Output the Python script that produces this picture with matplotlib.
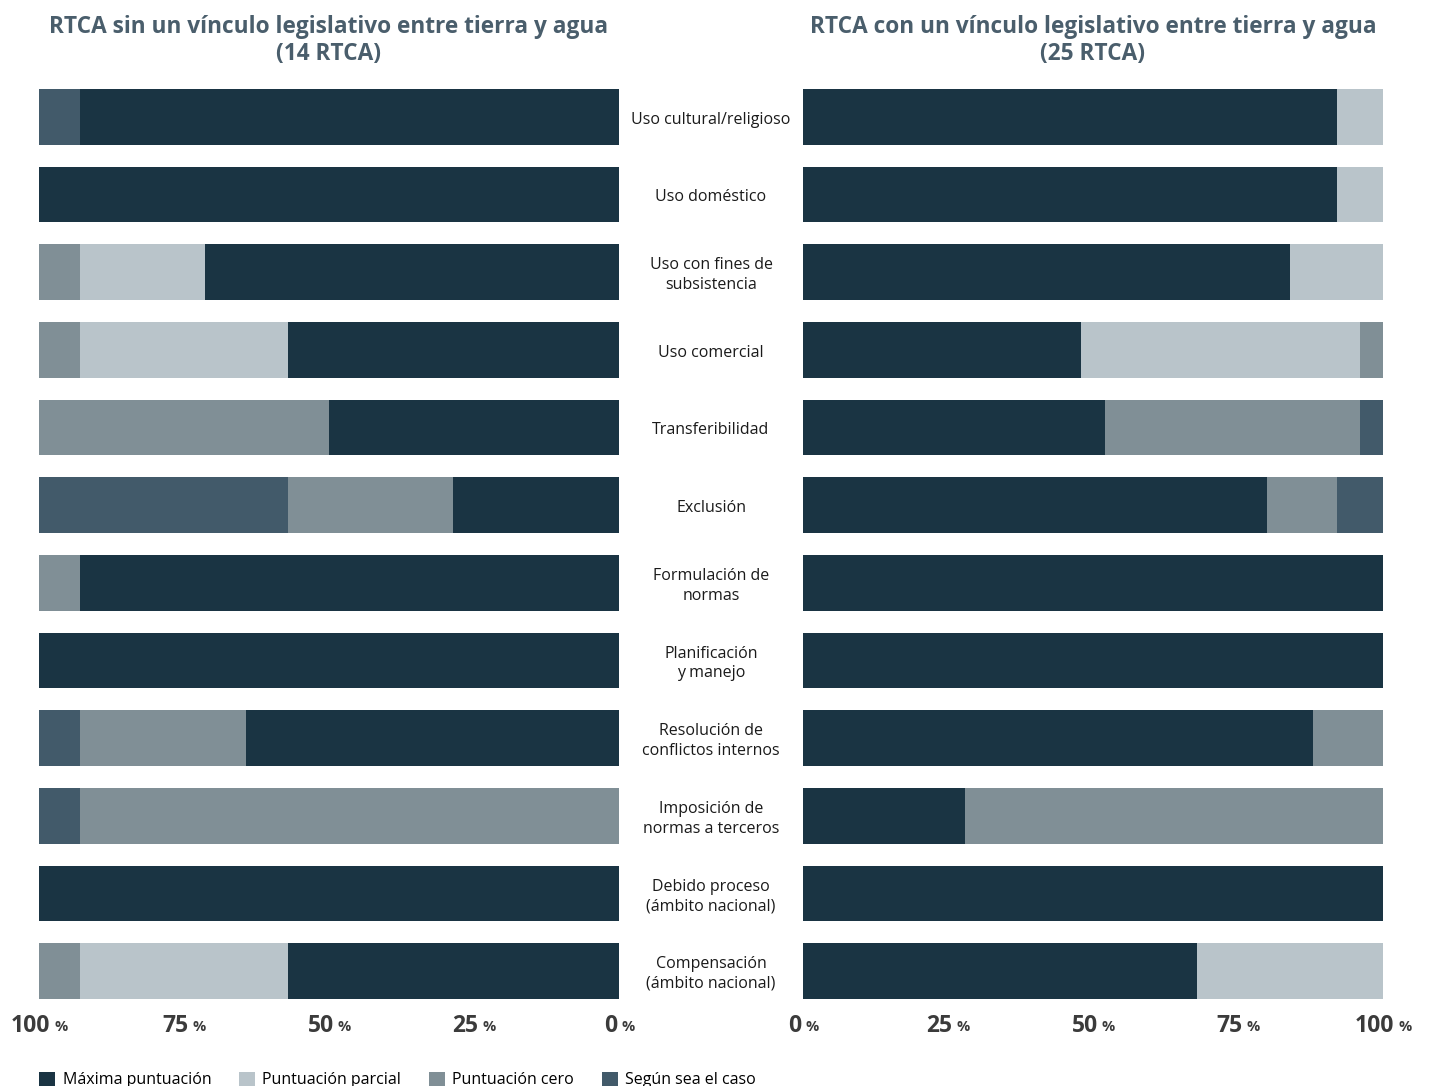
import matplotlib
matplotlib.use("Agg")
import matplotlib.pyplot as plt
import numpy as np
from matplotlib.patches import Patch

plt.rcParams['font.family'] = ['Open Sans', 'DejaVu Sans']

categories = [
    "Uso cultural/religioso", "Uso doméstico", "Uso con fines de\nsubsistencia",
    "Uso comercial", "Transferibilidad", "Exclusión", "Formulación de\nnormas",
    "Planificación\ny manejo", "Resolución de\nconflictos internos",
    "Imposición de\nnormas a terceros", "Debido proceso\n(ámbito nacional)",
    "Compensación\n(ámbito nacional)",
]
series = ["Máxima puntuación", "Puntuación parcial", "Puntuación cero", "Según sea el caso"]
colors = ["#1a3443", "#b9c4ca", "#808f96", "#425a6a"]

# Left: 14 RTCA (percent)
left_max     = [92.86, 100, 71.43, 57.14, 50.0, 28.57, 92.86, 100, 64.29, 0, 100, 57.14]
left_partial = [0, 0, 21.43, 35.71, 0, 0, 0, 0, 0, 0, 0, 35.71]
left_zero    = [0, 0, 7.14, 7.14, 50.0, 28.57, 7.14, 0, 28.57, 92.86, 0, 7.14]
left_segun   = [7.14, 0, 0, 0, 0, 42.86, 0, 0, 7.14, 7.14, 0, 0]

# Right: 25 RTCA (percent)
right_max     = [92, 92, 84, 48, 52, 80, 100, 100, 88, 28, 100, 68]
right_partial = [8, 8, 16, 48, 0, 0, 0, 0, 0, 0, 0, 32]
right_zero    = [0, 0, 0, 4, 44, 12, 0, 0, 12, 72, 0, 0]
right_segun   = [0, 0, 0, 0, 4, 8, 0, 0, 0, 0, 0, 0]

ticks = [0, 25, 50, 75, 100]
titles = ["RTCA sin un vínculo legislativo entre tierra y agua\n(14 RTCA)",
          "RTCA con un vínculo legislativo entre tierra y agua\n(25 RTCA)"]

fig = plt.figure(figsize=(14.29, 10.86), dpi=100)
ax_l = fig.add_axes([39/1429, 1-1010/1086, 580/1429, 932/1086])
ax_r = fig.add_axes([803/1429, 1-1010/1086, 580/1429, 932/1086])

y = np.arange(len(categories))
for ax, data, title in [(ax_l, [left_max, left_partial, left_zero, left_segun], titles[0]),
                        (ax_r, [right_max, right_partial, right_zero, right_segun], titles[1])]:
    left = np.zeros(len(categories))
    for vals, c in zip(data, colors):
        v = np.array(vals, dtype=float)
        ax.barh(y, v, left=left, height=0.72, color=c, edgecolor='none')
        left += v
    ax.set_xlim(0, 100)
    ax.set_ylim(len(categories) - 0.5, -0.5)
    for s in ax.spines.values():
        s.set_visible(False)
    ax.set_yticks([])
    ax.set_xticks(ticks)
    ax.set_xticklabels([])
    ax.tick_params(axis='x', length=0)
    ax.set_title(title, fontsize=16.3, fontweight='bold', color='#4a5e6c',
                 linespacing=1.15, pad=13)
    for t in ticks:
        num = ax.annotate(f"{t}", xy=(t, 0), xycoords=('data', 'axes fraction'),
                          xytext=(-6, -3), textcoords='offset points',
                          ha='center', va='top', fontsize=16.5, fontweight='bold',
                          color='#3b3b3b')
        ax.annotate("%", xy=(1, 0.45), xycoords=num, xytext=(3, 0),
                    textcoords='offset points', ha='left', va='center',
                    fontsize=10.5, fontweight='bold', color='#3b3b3b')

ax_l.invert_xaxis()

# Category labels in the middle
for i, cat in enumerate(categories):
    ax_l.annotate(cat, xy=(1, i), xycoords=('axes fraction', 'data'),
                  xytext=(711 - 619, -3), textcoords='offset pixels',
                  ha='center', va='center', fontsize=11.5, color='#1a1a1a',
                  linespacing=1.3)

handles = [Patch(facecolor=c, edgecolor='none') for c in colors]
fig.legend(handles, series, loc='lower left', bbox_to_anchor=(33/1429, -0.008),
           ncol=4, frameon=False, fontsize=11.5, handlelength=1.0, handleheight=1.0,
           handletextpad=0.45, columnspacing=1.75, borderaxespad=0)

fig.savefig("out.png", dpi=100)
